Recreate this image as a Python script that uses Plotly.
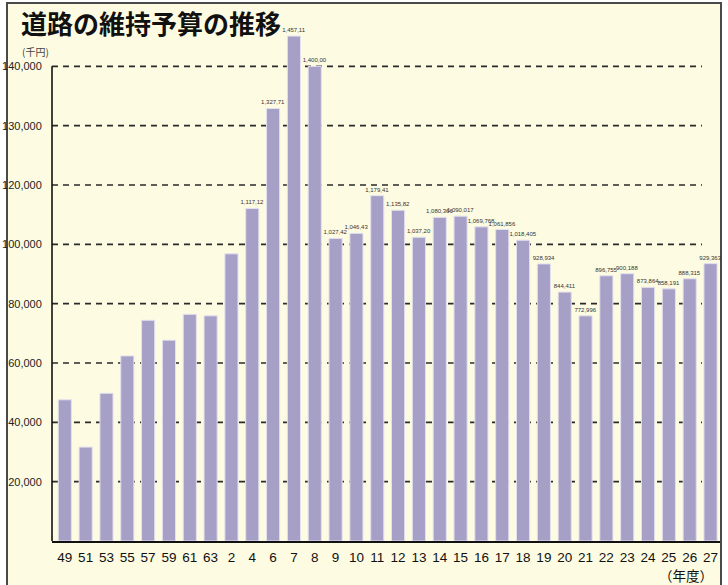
import plotly.graph_objects as go

# ---- data ----
years = ["49", "51", "53", "55", "57", "59", "61", "63", "2", "4", "6", "7", "8", "9",
         "10", "11", "12", "13", "14", "15", "16", "17", "18", "19", "20", "21", "22",
         "23", "24", "25", "26", "27"]
budget = [47600, 31650, 49800, 62400, 74400, 67700, 76400, 75900, 96800, 112100,
          132900, 145100, 140000, 102000, 103700, 116400, 111500, 102400, 109100,
          109500, 105900, 105000, 101400, 93400, 83900, 75900, 89400, 90100, 85500,
          85000, 88400, 93500]
bar_labels = ["", "", "", "", "", "", "", "", "", "1,117,12",
              "1,327,71", "1,457,11", "1,400,00", "1,027,42", "1,046,43", "1,179,41",
              "1,135,82", "1,037,20", "1,080,366", "1,090,017", "1,069,768", "1,061,856",
              "1,018,405", "928,934", "844,411", "772,996", "896,755", "900,188",
              "873,864", "858,191", "888,315", "929,363"]
tick_values = [20000, 40000, 60000, 80000, 100000, 120000, 130000, 140000]
tick_labels = ["20,000", "40,000", "60,000", "80,000", "100,000", "120,000", "130,000", "140,000"]

# The reference axis is broken: 20,000 per gridline up to 120,000, then 10,000 per gridline.
def on_axis(v):
    return v if v <= 120000 else 120000 + 2 * (v - 120000)

CREAM = "#fdfbe2"
BAR = "#a6a0c7"
SANS = "Liberation Sans Narrow, Arial Narrow, Liberation Sans, Arial, sans-serif"
JP = "Noto Sans CJK JP, sans-serif"

W, H = 728, 585
ML, MR, MT, MB = 52, 8, 7, 44
PW, PH = W - ML - MR, H - MT - MB
def px_x(x):
    return (x - ML) / PW
def px_y(y):
    return (H - MB - y) / PH

fig = go.Figure()
fig.add_trace(go.Bar(
    x=years, y=[on_axis(v) for v in budget],
    marker=dict(color=BAR, line=dict(color="#e4e1ee", width=1)),
    text=bar_labels, textposition="outside", constraintext="none",
    textfont=dict(family=SANS, size=6, color="#333333"),
    cliponaxis=False, hoverinfo="skip",
))

shapes = []
# outer frame
shapes.append(dict(type="rect", xref="paper", yref="paper",
                   x0=px_x(7), x1=px_x(721), y0=px_y(600), y1=px_y(3),
                   fillcolor=CREAM, line=dict(color="#4a4a4a", width=2), layer="below"))
# dashed gridlines
for tv in tick_values:
    shapes.append(dict(type="line", xref="paper", yref="y",
                       x0=0, x1=px_x(702), y0=on_axis(tv), y1=on_axis(tv),
                       line=dict(color="#2a2a2a", width=1.6, dash="6px,5px"), layer="below"))
# y axis line (only up to the top gridline)
shapes.append(dict(type="line", xref="paper", yref="y", x0=0, x1=0,
                   y0=0, y1=on_axis(max(tick_values)),
                   line=dict(color="#111111", width=1.6), layer="above"))

annotations = [
    dict(text="<b>道路の維持予算の推移</b>", xref="paper", yref="paper",
         x=px_x(19), y=px_y(22.5), xanchor="left", yanchor="middle", showarrow=False,
         font=dict(family=JP, size=26, color="#111111")),
    dict(text="(千円)", xref="paper", yref="paper",
         x=px_x(20), y=px_y(52), xanchor="left", yanchor="middle", showarrow=False,
         font=dict(family=JP, size=10, color="#444444")),
    dict(text="（年度）", xref="paper", yref="paper",
         x=px_x(686), y=px_y(575), xanchor="center", yanchor="middle", showarrow=False,
         font=dict(family=JP, size=13.5, color="#111111")),
]

fig.update_layout(
    width=W, height=H, autosize=False,
    margin=dict(l=ML, r=MR, t=MT, b=MB, autoexpand=False),
    paper_bgcolor="white", plot_bgcolor=CREAM,
    showlegend=False, bargap=0.37,
    shapes=shapes, annotations=annotations,
    xaxis=dict(type="category", range=[-0.615, 31.455], showgrid=False, zeroline=False,
               automargin=False,
               showline=True, linecolor="#111111", linewidth=1.6,
               ticks="outside", ticklen=3, tickcolor="rgba(0,0,0,0)",
               tickfont=dict(family=SANS, size=13.5, color="#111111"), fixedrange=True),
    yaxis=dict(range=[0, 180000], showgrid=False, zeroline=False, showline=False,
               automargin=False,
               tickvals=[on_axis(v) for v in tick_values], ticktext=tick_labels,
               ticks="outside", ticklen=7, tickcolor="rgba(0,0,0,0)",
               tickfont=dict(family=SANS, size=11, color="#222222"), fixedrange=True),
)

fig.write_html("out.html", config={"displayModeBar": False},
               post_script="document.body.style.margin='0';")
